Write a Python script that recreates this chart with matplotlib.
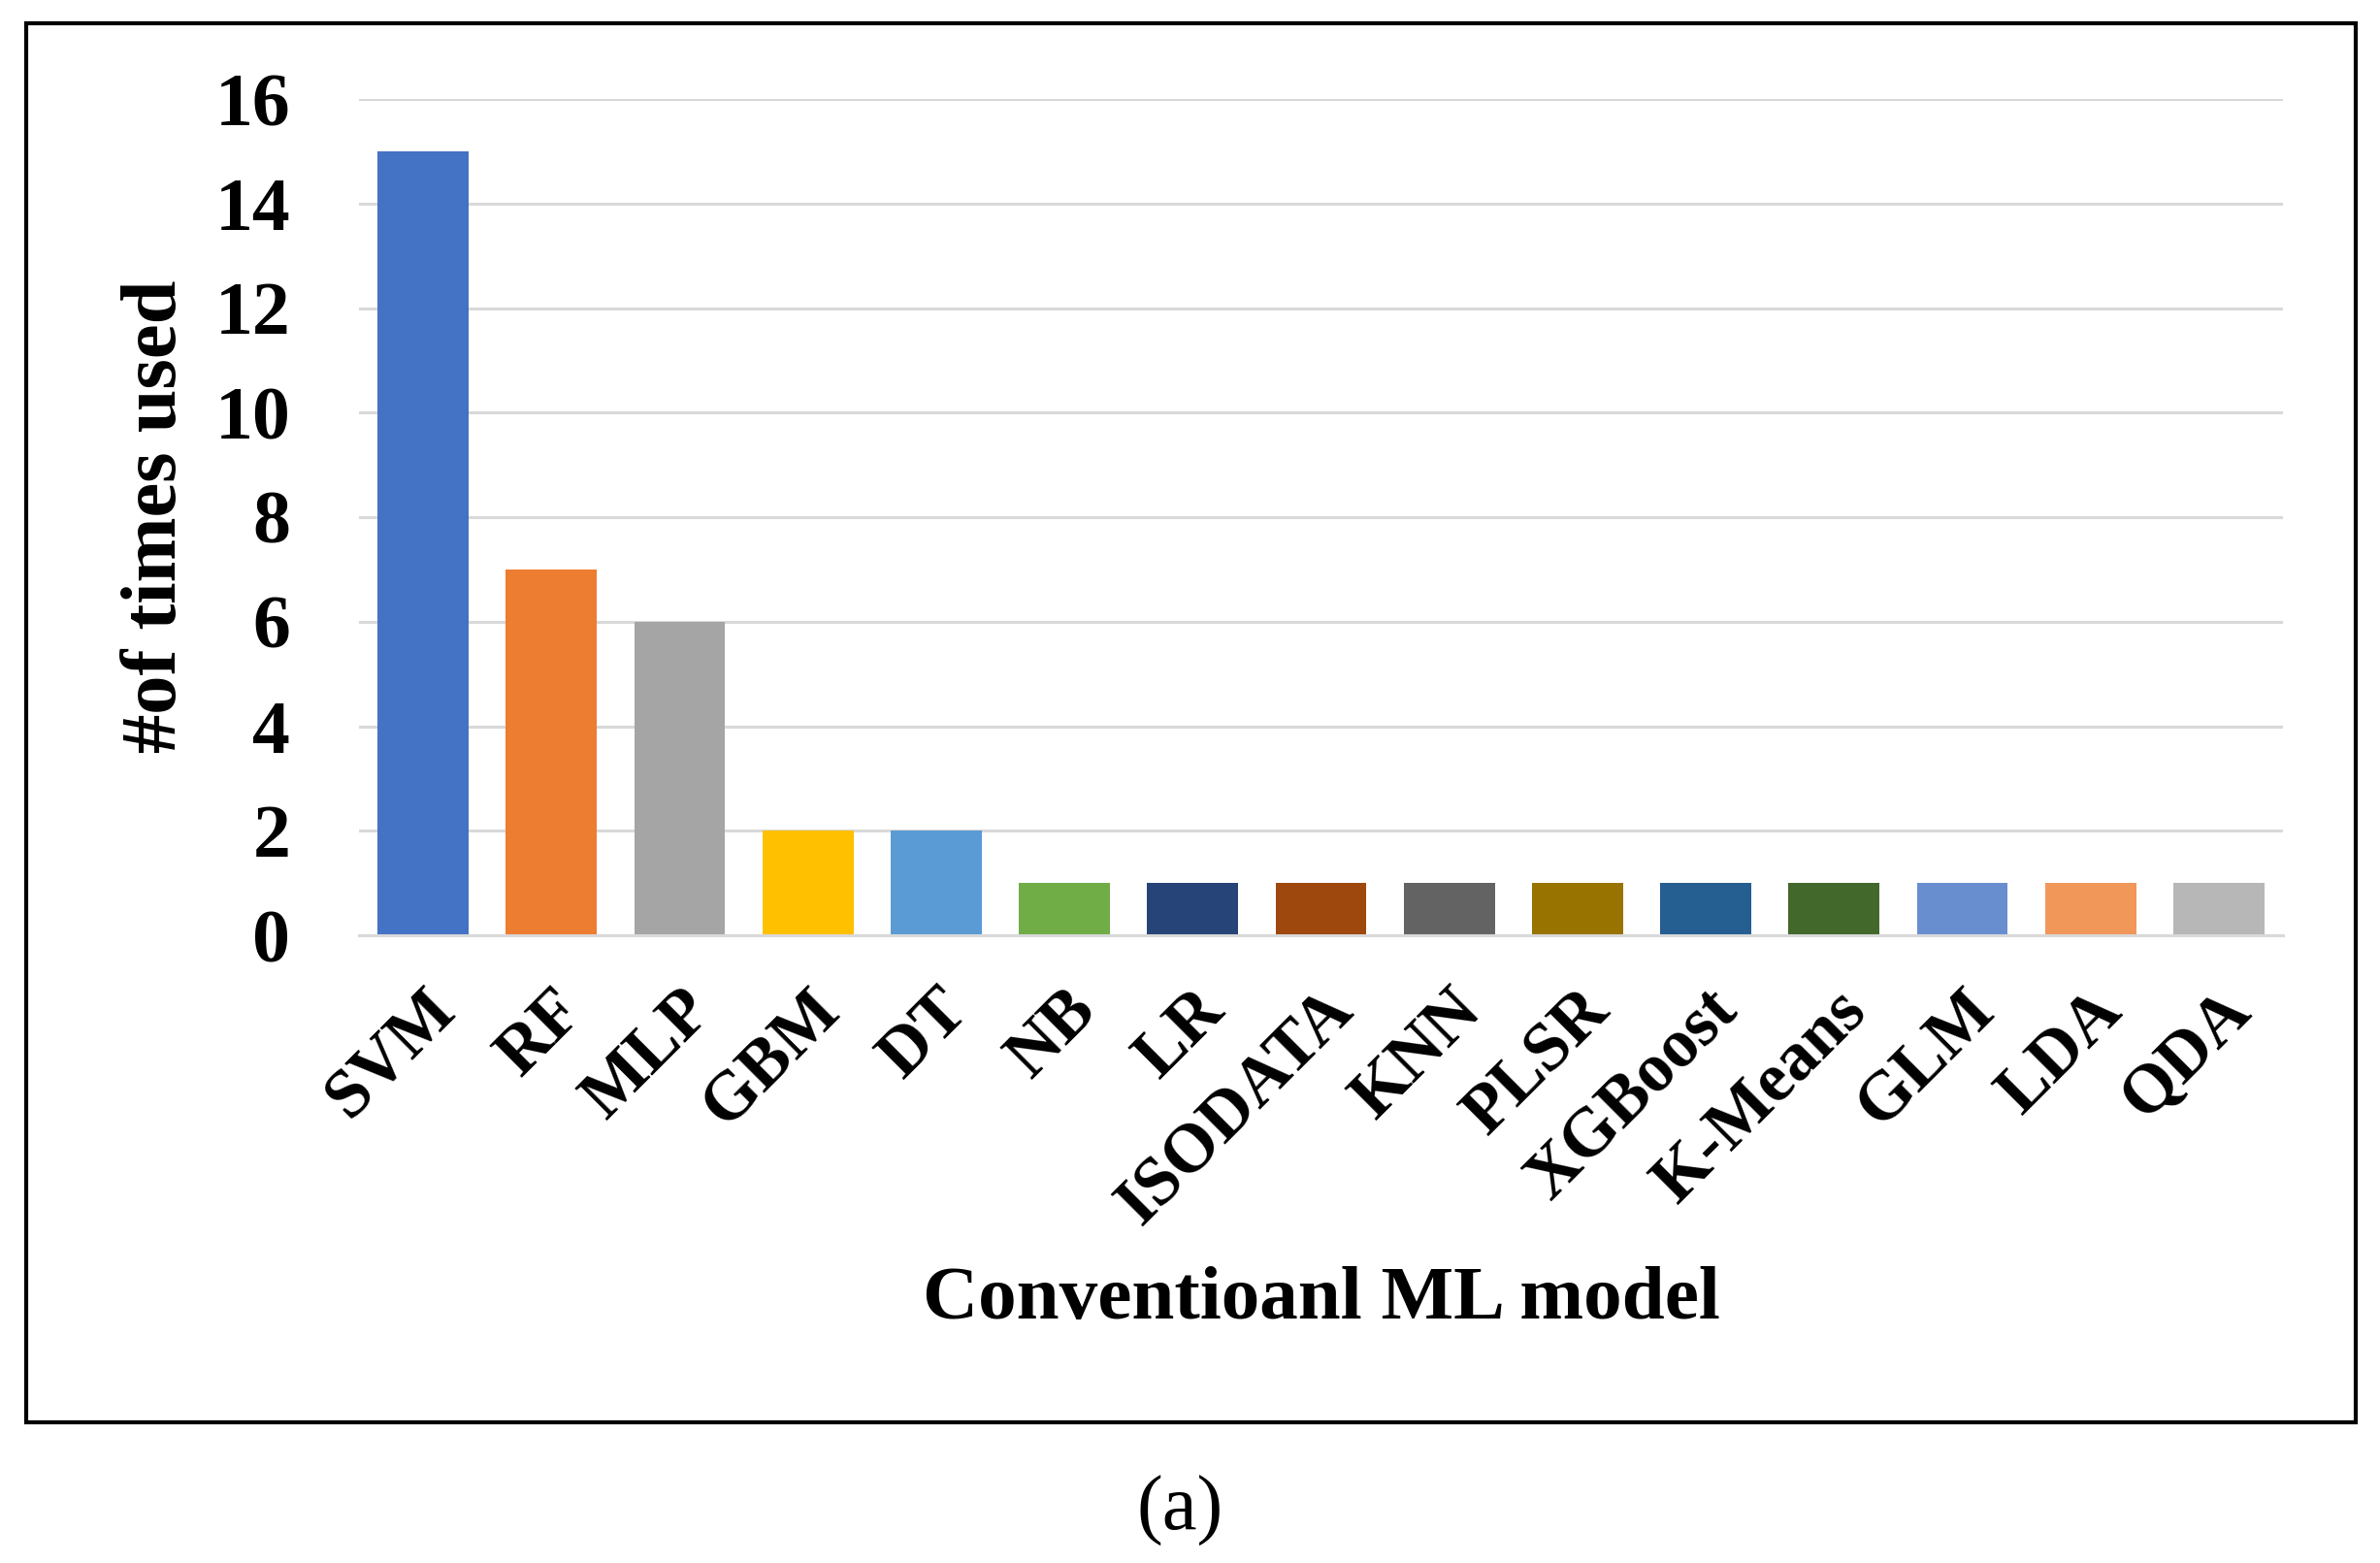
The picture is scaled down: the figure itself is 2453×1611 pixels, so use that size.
import matplotlib
matplotlib.use("Agg")
import matplotlib.pyplot as plt
from matplotlib.patches import Rectangle
from matplotlib.transforms import ScaledTranslation

categories = ["SVM", "RF", "MLP", "GBM", "DT", "NB", "LR", "ISODATA", "KNN",
              "PLSR", "XGBoost", "K-Means", "GLM", "LDA", "QDA"]
values = [15, 7, 6, 2, 2, 1, 1, 1, 1, 1, 1, 1, 1, 1, 1]
colors = ["#4472C4", "#ED7D31", "#A5A5A5", "#FFC000", "#5B9BD5", "#70AD47",
          "#264478", "#9E480E", "#636363", "#997300", "#255E91", "#43682B",
          "#698ED0", "#F1975A", "#B7B7B7"]
yticks = [0, 2, 4, 6, 8, 10, 12, 14, 16]

plt.rcParams['font.family'] = ['Liberation Serif', 'DejaVu Serif']

W, H = 2453, 1611
fig = plt.figure(figsize=(W / 100, H / 100), dpi=100)

# outer border
fig.patches.append(Rectangle((27 / W, 1 - 1466 / H), (2428 - 27) / W, (1466 - 24) / H,
                             transform=fig.transFigure, fill=False, edgecolor="black",
                             linewidth=3))

ax = fig.add_axes([370 / W, 1 - 964 / H, (2353 - 370) / W, (964 - 102) / H])
x = list(range(len(categories)))
ax.bar(x, values, width=0.71, color=colors, zorder=3)
ax.set_xlim(-0.5, len(categories) - 0.5)
ax.set_ylim(0, 16)
ax.set_yticks(yticks)
ax.set_yticklabels([str(v) for v in yticks], fontsize=56, fontweight="bold")
ax.set_xticks(x)
ax.set_xticklabels(categories, fontsize=51, fontweight="bold", rotation=45,
                   ha="right", va="top", rotation_mode="anchor")
offset = ScaledTranslation(-0.13, 0, fig.dpi_scale_trans)
for lbl in ax.get_xticklabels():
    lbl.set_transform(lbl.get_transform() + offset)
ax.tick_params(axis="both", length=0)
ax.tick_params(axis="y", pad=51)
ax.tick_params(axis="x", pad=32)
ax.grid(axis="y", color="#D9D9D9", linewidth=2.2, zorder=0)
for s in ["left", "right", "top"]:
    ax.spines[s].set_visible(False)
ax.spines["bottom"].set_color("#D9D9D9")
ax.spines["bottom"].set_linewidth(2.2)
ax.spines["bottom"].set_zorder(4)

fig.text(161 / W, 1 - 532 / H, "#of times used", rotation=90, ha="center", va="center",
         fontsize=58, fontweight="bold")
fig.text(1362 / W, 1 - 1340 / H, "Conventioanl ML model", ha="center", va="center",
         fontsize=57, fontweight="bold")
fig.text(1216 / W, 1 - 1557 / H, "(a)", ha="center", va="center", fontsize=58)

fig.savefig("out.png", dpi=100, facecolor="white")
